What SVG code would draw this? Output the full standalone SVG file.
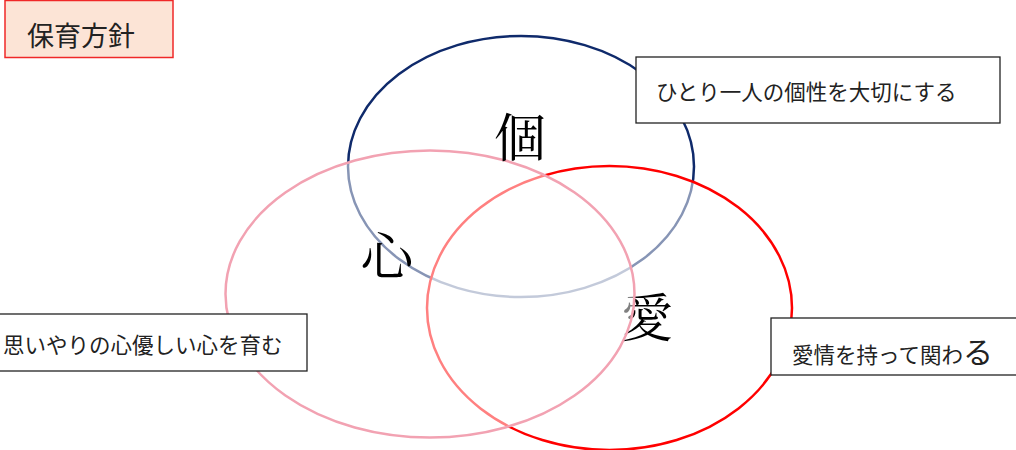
<svg xmlns="http://www.w3.org/2000/svg" width="1016" height="450" viewBox="0 0 1016 450">
<style>
.box{fill:#ffffff;stroke:#222222;stroke-width:1.3}
.lbl{font-family:"Noto Sans CJK JP","Noto Sans CJK SC",sans-serif;font-size:21.5px;fill:#222222}
.big{font-family:"Noto Serif CJK JP","Noto Sans CJK JP",serif;font-size:52px;fill:#000000;text-anchor:middle}
.ring{stroke-width:2.5}
</style>
<rect width="1016" height="450" fill="#ffffff"/>
<g id="connectors">
<ellipse id="ring-ko" class="ring" cx="521" cy="166.5" rx="173" ry="130.5" fill="none" stroke="#0f2a6b"/>
<ellipse id="ring-ai" class="ring" cx="609.5" cy="308" rx="182.5" ry="142" fill="#ffffff" fill-opacity="0.5" stroke="#ff0000"/>
</g>
<g id="node-ai"><text class="big" x="647" y="337">愛</text></g>
<g id="ring-kokoro-g"><ellipse id="ring-kokoro" class="ring" cx="430" cy="294" rx="204.5" ry="143.5" fill="#ffffff" fill-opacity="0.5" stroke="#f2a2b2"/></g>
<g id="node-kokoro"><text class="big" x="387" y="275">心</text></g>
<g id="node-ko"><text class="big" x="520" y="157">個</text></g>
<g id="title">
<rect x="5" y="0.5" width="168" height="57" fill="#fce4d6" stroke="#f02828" stroke-width="1.5"/>
<text x="27" y="46" style="font-family:'Noto Sans CJK JP',sans-serif;font-size:27px;fill:#222222">保育方針</text>
</g>
<g id="box-ko">
<rect class="box" x="636" y="57" width="364" height="66"/>
<text class="lbl" x="656" y="100">ひとり一人の個性を大切にする</text>
</g>
<g id="box-kokoro">
<rect class="box" x="-2" y="314" width="309" height="57"/>
<text class="lbl" x="3" y="353">思いやりの心優しい心を育む</text>
</g>
<g id="box-ai">
<rect class="box" x="771" y="318" width="250" height="57"/>
<text class="lbl" x="792" y="363">愛情を持って関わ<tspan style="font-size:30px">る</tspan></text>
</g>
</svg>
